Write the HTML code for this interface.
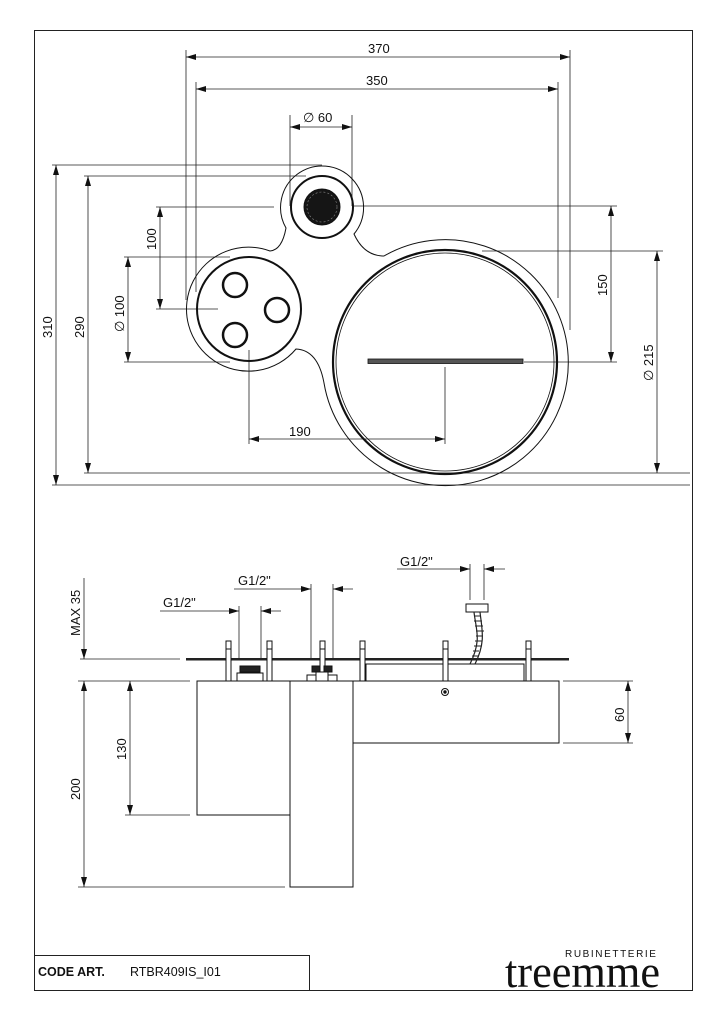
<!DOCTYPE html>
<html><head><meta charset="utf-8"><style>
html,body{margin:0;padding:0;background:#fff;}
svg{display:block;}
text{font-family:"Liberation Sans",sans-serif;fill:#111;}
</style></head><body>
<svg width="723" height="1024" viewBox="0 0 723 1024" xmlns="http://www.w3.org/2000/svg">
<defs>
<marker id="a" viewBox="0 0 10 6" refX="10" refY="3" markerWidth="10" markerHeight="6" orient="auto-start-reverse" markerUnits="userSpaceOnUse"><path d="M0,0 L10,3 L0,6 z" fill="#111"/></marker>
</defs>
<rect x="34.5" y="30.5" width="658" height="960" fill="none" stroke="#222" stroke-width="1"/>
<g stroke="#222" stroke-width="0.8" fill="none">
<line x1="186" y1="50" x2="186" y2="300"/>
<line x1="196" y1="82" x2="196" y2="292"/>
<line x1="558" y1="82" x2="558" y2="298"/>
<line x1="570" y1="50" x2="570" y2="330"/>
<line x1="186" y1="57" x2="570" y2="57" marker-start="url(#a)" marker-end="url(#a)"/>
<line x1="196" y1="89" x2="558" y2="89" marker-start="url(#a)" marker-end="url(#a)"/>
<line x1="290" y1="115" x2="290" y2="206"/>
<line x1="352" y1="115" x2="352" y2="206"/>
<line x1="290" y1="127" x2="352" y2="127" marker-start="url(#a)" marker-end="url(#a)"/>
<line x1="52" y1="165" x2="322" y2="165"/>
<line x1="84" y1="176" x2="306" y2="176"/>
<line x1="52" y1="485" x2="690" y2="485"/>
<line x1="84" y1="473" x2="690" y2="473"/>
<line x1="56" y1="165" x2="56" y2="485" marker-start="url(#a)" marker-end="url(#a)"/>
<line x1="88" y1="176" x2="88" y2="473" marker-start="url(#a)" marker-end="url(#a)"/>
<line x1="156" y1="207" x2="274" y2="207"/>
<line x1="124" y1="257" x2="230" y2="257"/>
<line x1="156" y1="309" x2="218" y2="309"/>
<line x1="124" y1="362" x2="230" y2="362"/>
<line x1="160" y1="207" x2="160" y2="309" marker-start="url(#a)" marker-end="url(#a)"/>
<line x1="128" y1="257" x2="128" y2="362" marker-start="url(#a)" marker-end="url(#a)"/>
<line x1="353" y1="206" x2="617" y2="206"/>
<line x1="524" y1="362" x2="617" y2="362"/>
<line x1="611" y1="206" x2="611" y2="362" marker-start="url(#a)" marker-end="url(#a)"/>
<line x1="482" y1="251" x2="663" y2="251"/>
<line x1="657" y1="251" x2="657" y2="473" marker-start="url(#a)" marker-end="url(#a)"/>
<line x1="249" y1="350" x2="249" y2="444"/>
<line x1="445" y1="367" x2="445" y2="444"/>
<line x1="249" y1="439" x2="445" y2="439" marker-start="url(#a)" marker-end="url(#a)"/>
</g>
<g font-size="13">
<text x="368" y="53">370</text>
<text x="366" y="85">350</text>
<text x="303" y="122">∅ 60</text>
<text x="289" y="436">190</text>
<text transform="translate(52,338) rotate(-90)">310</text>
<text transform="translate(84,338) rotate(-90)">290</text>
<text transform="translate(156,250) rotate(-90)">100</text>
<text transform="translate(124,332) rotate(-90)">∅ 100</text>
<text transform="translate(607,296) rotate(-90)">150</text>
<text transform="translate(653,381) rotate(-90)">∅ 215</text>
</g>
<path d="M286 228 A41.5 41.5 0 1 1 354 234 Q364 256 384 256 A123 123 0 1 1 324 383 Q318 350 296 349 A62 62 0 1 1 270 251 Q282 250 286 228 Z" fill="none" stroke="#111" stroke-width="1"/>
<circle cx="322" cy="207" r="31" fill="none" stroke="#111" stroke-width="2"/>
<circle cx="322" cy="207" r="18" fill="#151515" stroke="#111" stroke-width="1"/>
<circle cx="322" cy="207" r="15" fill="none" stroke="#888" stroke-width="0.6" stroke-dasharray="2 2"/>
<circle cx="249" cy="309" r="52" fill="none" stroke="#111" stroke-width="2"/>
<g fill="none" stroke="#111" stroke-width="2.5">
<circle cx="235" cy="285" r="12"/>
<circle cx="277" cy="310" r="12"/>
<circle cx="235" cy="335" r="12"/>
</g>
<circle cx="445" cy="362" r="112" fill="none" stroke="#111" stroke-width="2.2"/>
<circle cx="445" cy="362" r="109" fill="none" stroke="#111" stroke-width="0.8"/>
<rect x="368" y="359" width="155" height="4.5" fill="#555" stroke="#111" stroke-width="0.8"/>
<g stroke="#222" stroke-width="0.8" fill="none">
<line x1="80" y1="659" x2="180" y2="659"/>
<line x1="78" y1="681" x2="190" y2="681"/>
<line x1="78" y1="887" x2="285" y2="887"/>
<line x1="125" y1="815" x2="190" y2="815"/>
<line x1="84" y1="578" x2="84" y2="659" marker-end="url(#a)"/>
<line x1="84" y1="681" x2="84" y2="887" marker-start="url(#a)" marker-end="url(#a)"/>
<line x1="130" y1="681" x2="130" y2="815" marker-start="url(#a)" marker-end="url(#a)"/>
<line x1="563" y1="681" x2="633" y2="681"/>
<line x1="563" y1="743" x2="633" y2="743"/>
<line x1="628" y1="681" x2="628" y2="743" marker-start="url(#a)" marker-end="url(#a)"/>
<line x1="239" y1="606" x2="239" y2="660"/>
<line x1="261" y1="606" x2="261" y2="660"/>
<line x1="160" y1="611" x2="239" y2="611" marker-end="url(#a)"/>
<line x1="281" y1="611" x2="261" y2="611" marker-end="url(#a)"/>
<line x1="311" y1="584" x2="311" y2="660"/>
<line x1="333" y1="584" x2="333" y2="660"/>
<line x1="234" y1="589" x2="311" y2="589" marker-end="url(#a)"/>
<line x1="353" y1="589" x2="333" y2="589" marker-end="url(#a)"/>
<line x1="470" y1="564" x2="470" y2="600"/>
<line x1="484" y1="564" x2="484" y2="600"/>
<line x1="397" y1="569" x2="470" y2="569" marker-end="url(#a)"/>
<line x1="505" y1="569" x2="484" y2="569" marker-end="url(#a)"/>
</g>
<g font-size="13">
<text x="163" y="607">G1/2"</text>
<text x="238" y="585">G1/2"</text>
<text x="400" y="566">G1/2"</text>
<text transform="translate(80,636) rotate(-90)">MAX 35</text>
<text transform="translate(80,800) rotate(-90)">200</text>
<text transform="translate(126,760) rotate(-90)">130</text>
<text transform="translate(624,722) rotate(-90)">60</text>
</g>
<rect x="186" y="658" width="383" height="2.5" fill="#222"/>
<g fill="#fff" stroke="#111" stroke-width="1">
<rect x="366" y="664" width="158" height="17" fill="none"/>
<rect x="197" y="681" width="93" height="134"/>
<rect x="290" y="681" width="63" height="206"/>
<rect x="353" y="681" width="206" height="62"/>
<circle cx="445" cy="692" r="3.5" fill="none"/>
<circle cx="445" cy="692" r="1.2" fill="#111"/>
<g>
<rect x="226" y="641" width="5" height="8"/><rect x="226" y="649" width="5" height="32"/>
<rect x="267" y="641" width="5" height="8"/><rect x="267" y="649" width="5" height="32"/>
<rect x="320" y="641" width="5" height="8"/><rect x="320" y="649" width="5" height="32"/>
<rect x="360" y="641" width="5" height="8"/><rect x="360" y="649" width="5" height="32"/>
<rect x="443" y="641" width="5" height="8"/><rect x="443" y="649" width="5" height="32"/>
<rect x="526" y="641" width="5" height="8"/><rect x="526" y="649" width="5" height="32"/>
</g>
<rect x="240" y="666" width="20" height="6" fill="#222"/>
<rect x="237" y="673" width="26" height="8"/>
<rect x="312" y="666" width="8" height="6" fill="#222"/><rect x="324" y="666" width="8" height="6" fill="#222"/>
<rect x="307" y="675" width="9" height="6"/><rect x="328" y="675" width="9" height="6"/>
<rect x="316" y="672" width="12" height="9"/>
<rect x="466" y="604" width="22" height="8"/>
</g>
<path d="M474 612 C476 630 482 640 470 664 M480 612 C482 630 486 642 475 664" stroke="#222" stroke-width="1.2" fill="none"/>
<path d="M474 616 L481 616 M474 621 L482 621 M475 626 L483 626 M476 631 L484 631 M476 636 L483 636 M475 641 L482 641 M474 646 L481 646 M473 651 L479 651 M472 656 L478 656" stroke="#222" stroke-width="0.9"/>
<path d="M34.5 955.5 H309.5 V990" stroke="#222" fill="none"/>
<text x="38" y="976" font-size="12.5" font-weight="bold">CODE ART.</text>
<text x="130" y="976" font-size="12.5">RTBR409IS_I01</text>
<text x="565" y="957" font-size="10" letter-spacing="1.6">RUBINETTERIE</text>
<text x="505" y="987" font-size="46" textLength="155" lengthAdjust="spacingAndGlyphs" style="font-family:'Liberation Serif',serif">treemme</text>
</svg>
</body></html>
